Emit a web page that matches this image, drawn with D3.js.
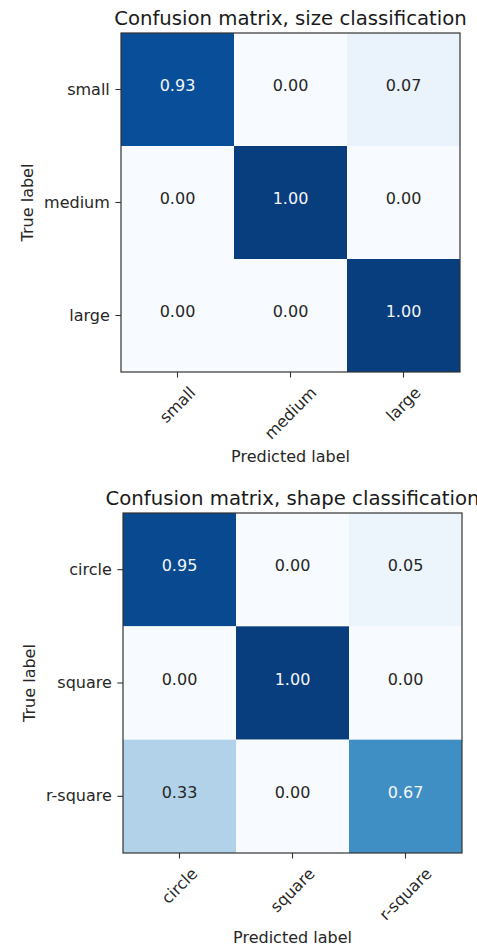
<!DOCTYPE html>
<html>
<head>
<meta charset="utf-8">
<script src="https://cdn.jsdelivr.net/npm/d3@7"></script>
<style>
  html, body { margin: 0; padding: 0; background: #fff; }
  svg { display: block; }
  text { font-family: "DejaVu Sans", sans-serif; }
</style>
</head>
<body>
<svg id="chart" width="477" height="950"></svg>
<script>
// ---- data ----
const sizeTitle = "Confusion matrix, size classification";
const sizeClasses = ["small", "medium", "large"];
const sizeMatrix = [
  [0.93, 0.00, 0.07],
  [0.00, 1.00, 0.00],
  [0.00, 0.00, 1.00]
];

const shapeTitle = "Confusion matrix, shape classification";
const shapeClasses = ["circle", "square", "r-square"];
const shapeMatrix = [
  [0.95, 0.00, 0.05],
  [0.00, 1.00, 0.00],
  [0.33, 0.00, 0.67]
];

const xAxisLabel = "Predicted label";
const yAxisLabel = "True label";

// matplotlib "Blues" colormap stops
const bluesStops = ["#f7fbff", "#deebf7", "#c6dbef", "#9ecae1", "#6baed6",
                    "#4292c6", "#2171b5", "#08519c", "#08306b"];

// ---- drawing ----
const svg = d3.select("#chart");
const FS = 16, TITLE_FS = 19.7, TICK = 5.6, PAD = 5.6;
const ASC = 0.928 * FS, DESC = 0.236 * FS;
const COLOR_STRETCH = 1.05; // reference rendering is slightly lighter

function drawMatrix(cfg) {
  const { title, classes, matrix, box } = cfg;
  const g = svg.append("g");
  const x = d3.scaleBand().domain(classes).range([box.x0, box.x1]);
  const y = d3.scaleBand().domain(classes).range([box.y0, box.y1]);
  const flat = matrix.flat();
  const vmin = d3.min(flat), vmax = d3.max(flat);
  const span = (vmax - vmin) * COLOR_STRETCH;
  const color = d3.scaleLinear()
    .domain(bluesStops.map((_, i) => vmin + span * i / (bluesStops.length - 1)))
    .range(bluesStops)
    .interpolate(d3.interpolateRgb)
    .clamp(true);
  const thresh = vmax / 2;

  const cells = [];
  matrix.forEach((row, i) => row.forEach((v, j) => cells.push({ i, j, v })));

  g.selectAll("rect.cell").data(cells).join("rect")
    .attr("class", "cell")
    .attr("x", d => x(classes[d.j]))
    .attr("y", d => y(classes[d.i]))
    .attr("width", x.bandwidth())
    .attr("height", y.bandwidth())
    .attr("fill", d => color(d.v));

  g.selectAll("text.val").data(cells).join("text")
    .attr("class", "val")
    .attr("x", d => x(classes[d.j]) + x.bandwidth() / 2)
    .attr("y", d => y(classes[d.i]) + y.bandwidth() / 2 + 1.5)
    .attr("text-anchor", "middle")
    .attr("font-size", FS)
    .attr("fill", d => d.v > thresh ? "#f4f6fa" : "#262626")
    .text(d => d.v.toFixed(2));

  // frame
  g.append("rect")
    .attr("x", box.x0).attr("y", box.y0)
    .attr("width", box.x1 - box.x0).attr("height", box.y1 - box.y0)
    .attr("fill", "none").attr("stroke", "#333").attr("stroke-width", 1.2);

  // title
  g.append("text")
    .attr("x", (box.x0 + box.x1) / 2)
    .attr("y", box.y0 - 8)
    .attr("text-anchor", "middle")
    .attr("font-size", TITLE_FS)
    .attr("fill", "#1a1a1a")
    .text(title);

  // y axis
  const yAxis = g.append("g")
    .attr("transform", `translate(${box.x0},0)`)
    .call(d3.axisLeft(y).tickSize(TICK).tickPadding(PAD).tickSizeOuter(0));
  yAxis.select(".domain").remove();
  yAxis.selectAll(".tick line").attr("stroke", "#333").attr("stroke-width", 1.1);
  yAxis.selectAll(".tick text")
    .attr("font-size", FS).attr("font-family", "DejaVu Sans")
    .attr("fill", "#262626").attr("dy", "0.32em");

  let minLeft = Infinity;
  yAxis.selectAll(".tick text").each(function () {
    const w = this.getComputedTextLength();
    minLeft = Math.min(minLeft, box.x0 - TICK - PAD - w);
  });

  // x axis
  const xAxis = g.append("g")
    .attr("transform", `translate(0,${box.y1})`)
    .call(d3.axisBottom(x).tickSize(TICK).tickPadding(PAD).tickSizeOuter(0));
  xAxis.select(".domain").remove();
  xAxis.selectAll(".tick line").attr("stroke", "#333").attr("stroke-width", 1.1);
  let maxBottom = 0;
  const h = ASC + DESC;
  xAxis.selectAll(".tick text")
    .attr("font-size", FS).attr("font-family", "DejaVu Sans")
    .attr("fill", "#262626")
    .each(function () {
      const t = d3.select(this);
      const w = this.getComputedTextLength();
      const half = (w + h) / (2 * Math.SQRT2);
      const cy = TICK + PAD + half;
      t.attr("y", null).attr("dy", null)
        .attr("text-anchor", "middle")
        .attr("dominant-baseline", "central")
        .attr("transform", `translate(0,${cy}) rotate(-45)`);
      maxBottom = Math.max(maxBottom, box.y1 + cy + half);
    });

  // axis labels
  g.append("text")
    .attr("x", (box.x0 + box.x1) / 2)
    .attr("y", maxBottom + 4.6 + ASC)
    .attr("text-anchor", "middle")
    .attr("font-size", FS)
    .attr("fill", "#262626")
    .text(xAxisLabel);

  const ylx = minLeft - 11;
  const yly = (box.y0 + box.y1) / 2;
  g.append("text")
    .attr("transform", `translate(${ylx},${yly}) rotate(-90)`)
    .attr("text-anchor", "middle")
    .attr("font-size", FS)
    .attr("fill", "#262626")
    .text(yAxisLabel);
}

drawMatrix({ title: sizeTitle, classes: sizeClasses, matrix: sizeMatrix,
             box: { x0: 121, x1: 460, y0: 33, y1: 372 } });
drawMatrix({ title: shapeTitle, classes: shapeClasses, matrix: shapeMatrix,
             box: { x0: 123, x1: 462, y0: 513, y1: 853 } });
</script>
</body>
</html>
